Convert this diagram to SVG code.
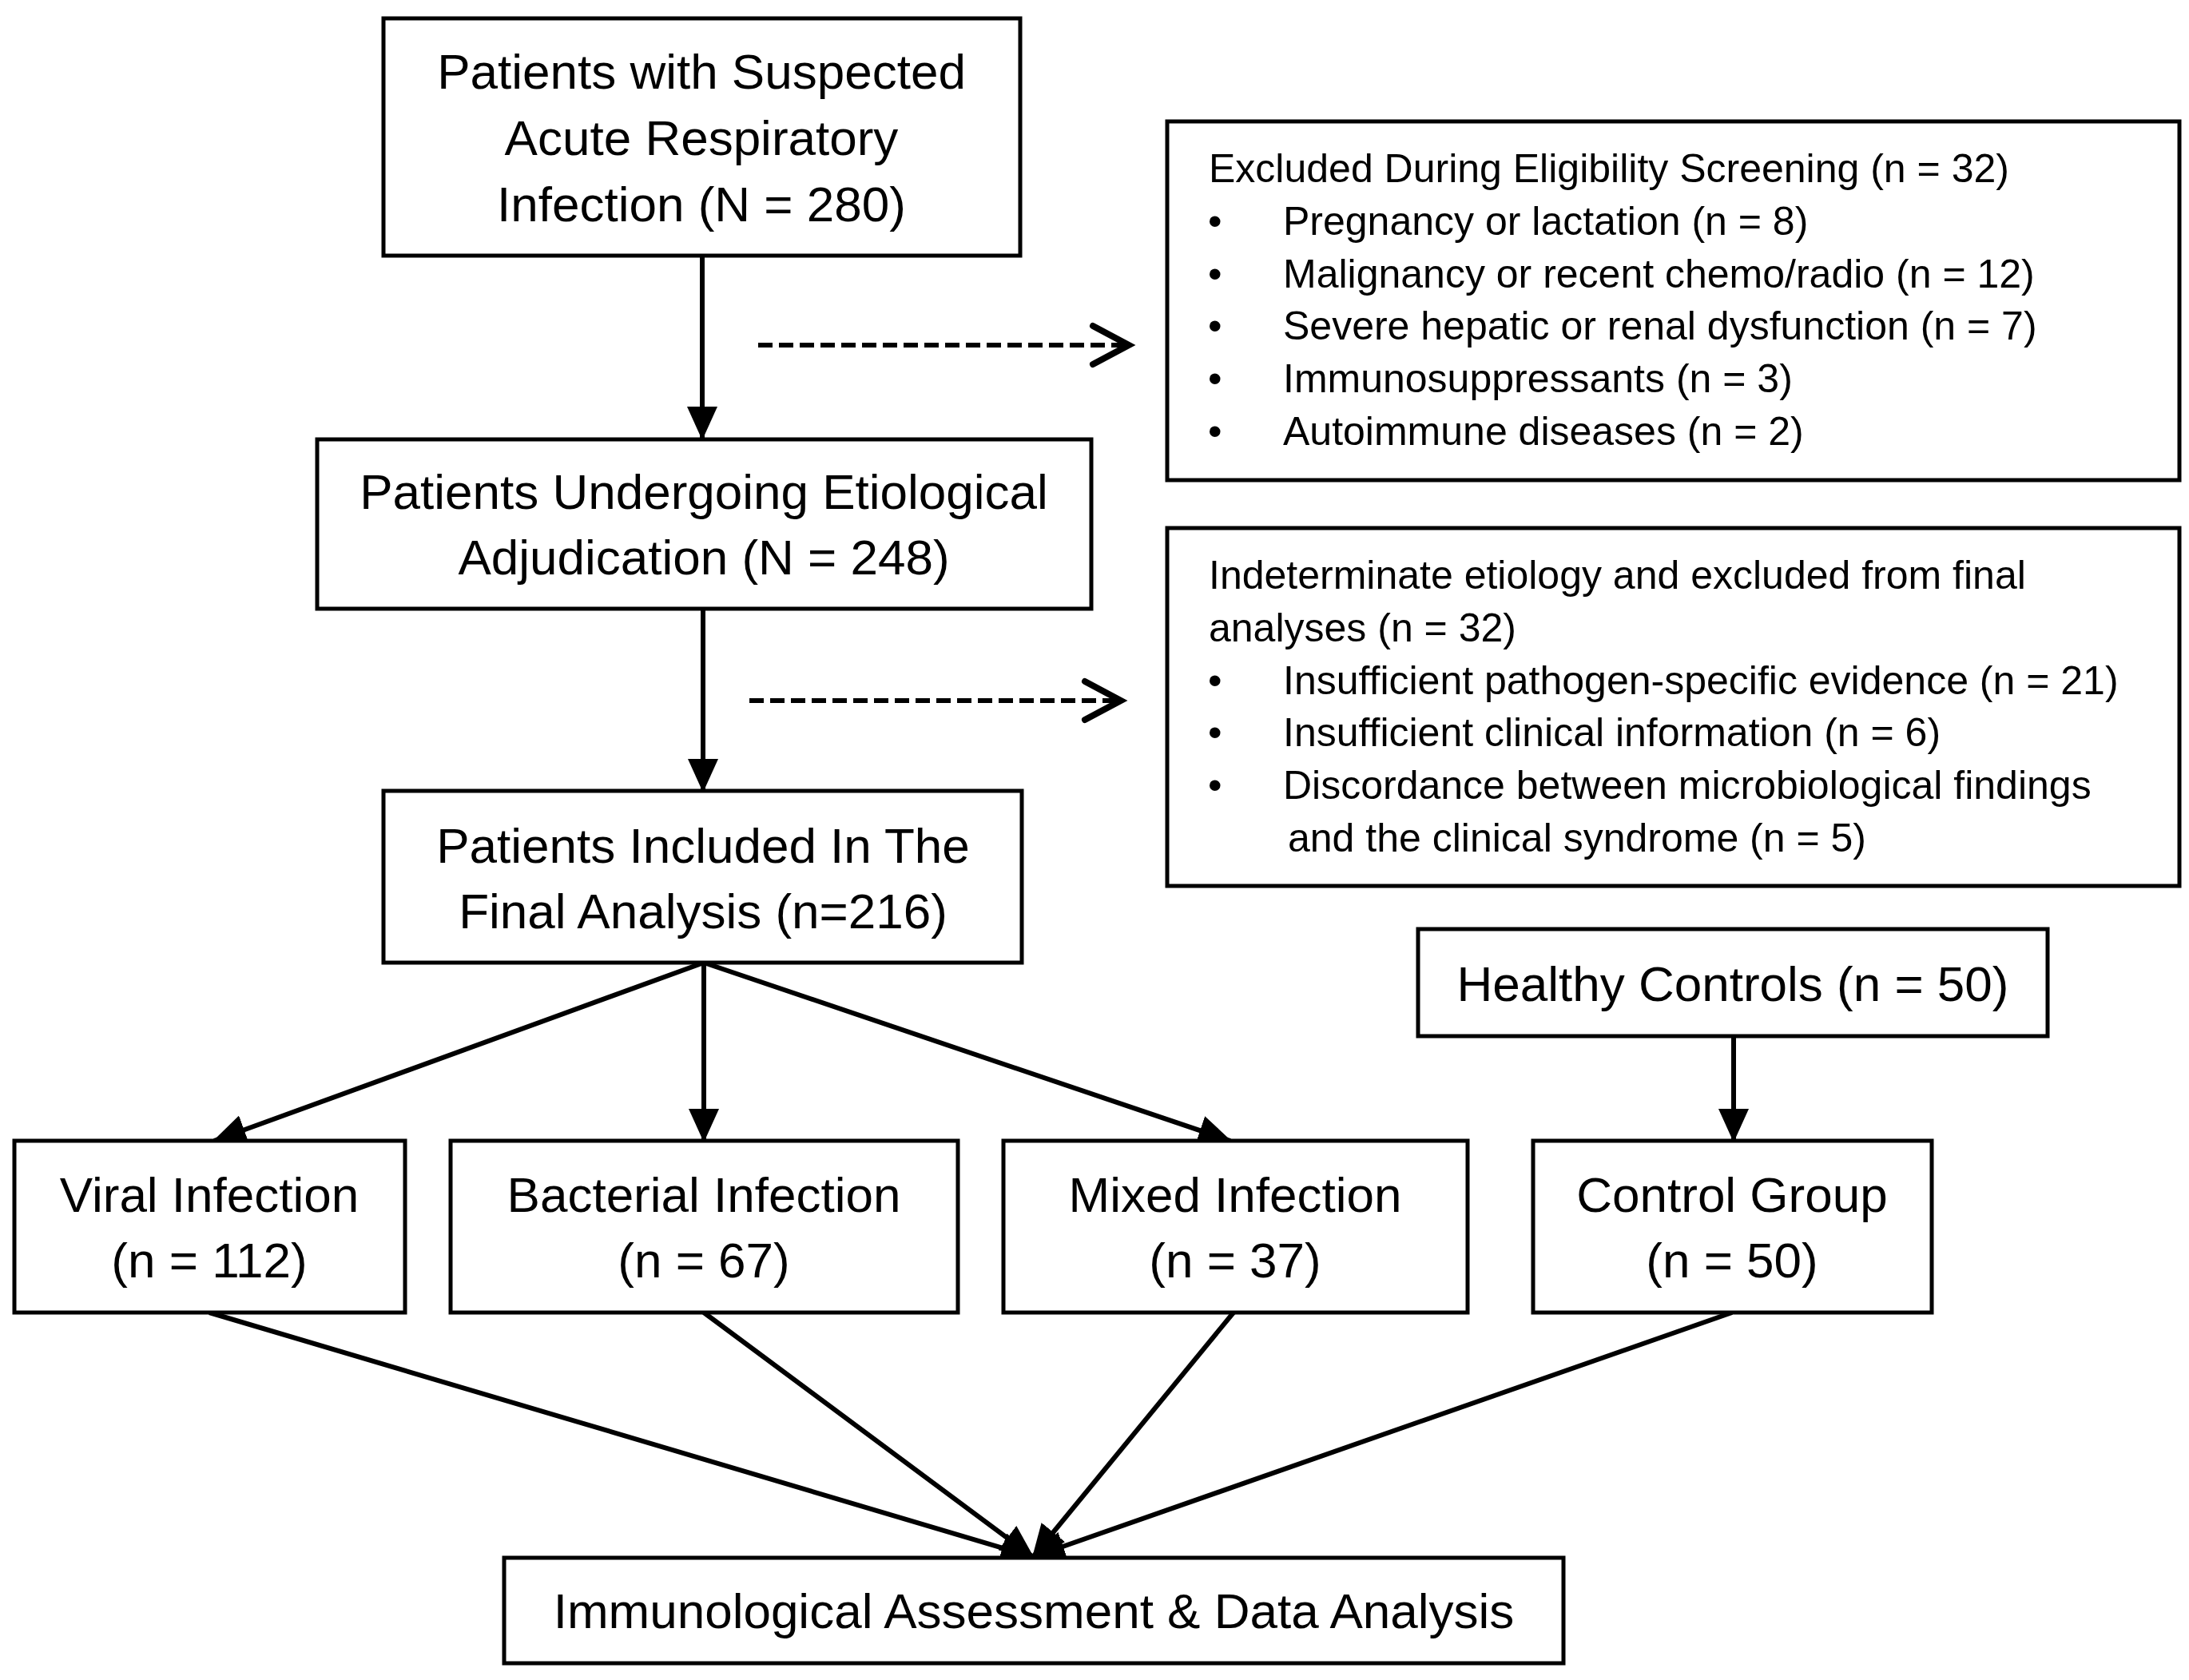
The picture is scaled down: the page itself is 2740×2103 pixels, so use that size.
<svg xmlns="http://www.w3.org/2000/svg" width="2740" height="2103" viewBox="0 0 2740 2103">
<style>
  .box { fill: #fff; stroke: #000; stroke-width: 5; }
  .t { font-family: "Liberation Sans", Arial, sans-serif; font-size: 62px; fill: #000; text-anchor: middle; }
  .s { font-family: "Liberation Sans", Arial, sans-serif; font-size: 50px; fill: #000; }
  .ln { stroke: #000; stroke-width: 6; fill: none; }
  .dash { stroke: #000; stroke-width: 6; fill: none; stroke-dasharray: 18 8; }
  .chev { stroke: #000; stroke-width: 8; fill: none; stroke-linecap: round; stroke-linejoin: miter; }
</style>
<defs>
  <marker id="ah" markerWidth="42" markerHeight="38" refX="40" refY="19" orient="auto" markerUnits="userSpaceOnUse">
    <path d="M0,0 L42,19 L0,38 z" fill="#000"/>
  </marker>
</defs>
<rect width="2740" height="2103" fill="#fff"/>

<g id="connectors">
  <line class="ln" x1="879" y1="320" x2="879" y2="549" marker-end="url(#ah)"/>
  <line class="ln" x1="880" y1="763" x2="880" y2="990" marker-end="url(#ah)"/>
  <line class="dash" x1="949" y1="432" x2="1408" y2="432"/>
  <polyline class="chev" points="1368,408 1413,432 1368,456"/>
  <line class="dash" x1="938" y1="877" x2="1399" y2="877"/>
  <polyline class="chev" points="1358,853 1403,877 1358,901"/>
  <line class="ln" x1="881" y1="1205" x2="268" y2="1428" marker-end="url(#ah)"/>
  <line class="ln" x1="881" y1="1205" x2="881" y2="1428" marker-end="url(#ah)"/>
  <line class="ln" x1="881" y1="1205" x2="1540" y2="1428" marker-end="url(#ah)"/>
  <line class="ln" x1="2170" y1="1297" x2="2170" y2="1428" marker-end="url(#ah)"/>
  <line class="ln" x1="262" y1="1643" x2="1293" y2="1949" marker-end="url(#ah)"/>
  <line class="ln" x1="881" y1="1643" x2="1293" y2="1949" marker-end="url(#ah)"/>
  <line class="ln" x1="1544" y1="1643" x2="1293" y2="1949" marker-end="url(#ah)"/>
  <line class="ln" x1="2168" y1="1643" x2="1293" y2="1949" marker-end="url(#ah)"/>
</g>

<g id="suspected">
  <rect class="box" x="480" y="23" width="797" height="297"/>
  <text class="t" x="878" y="111">Patients with Suspected</text>
  <text class="t" x="878" y="194">Acute Respiratory</text>
  <text class="t" x="878" y="277">Infection (N = 280)</text>
</g>

<g id="excluded-screening">
  <rect class="box" x="1461" y="152" width="1267" height="449"/>
  <text class="s" x="1513" y="228">Excluded During Eligibility Screening (n = 32)</text>
  <text class="s" x="1512" y="294">•</text><text class="s" x="1606" y="294">Pregnancy or lactation (n = 8)</text>
  <text class="s" x="1512" y="360">•</text><text class="s" x="1606" y="360">Malignancy or recent chemo/radio (n = 12)</text>
  <text class="s" x="1512" y="425">•</text><text class="s" x="1606" y="425">Severe hepatic or renal dysfunction (n = 7)</text>
  <text class="s" x="1512" y="491">•</text><text class="s" x="1606" y="491">Immunosuppressants (n = 3)</text>
  <text class="s" x="1512" y="557">•</text><text class="s" x="1606" y="557">Autoimmune diseases (n = 2)</text>
</g>

<g id="adjudication">
  <rect class="box" x="397" y="550" width="969" height="212"/>
  <text class="t" x="881" y="637">Patients Undergoing Etiological</text>
  <text class="t" x="881" y="719">Adjudication (N = 248)</text>
</g>

<g id="indeterminate">
  <rect class="box" x="1461" y="661" width="1267" height="448"/>
  <text class="s" x="1513" y="737">Indeterminate etiology and excluded from final</text>
  <text class="s" x="1513" y="803">analyses (n = 32)</text>
  <text class="s" x="1512" y="869">•</text><text class="s" x="1606" y="869">Insufficient pathogen-specific evidence (n = 21)</text>
  <text class="s" x="1512" y="934">•</text><text class="s" x="1606" y="934">Insufficient clinical information (n = 6)</text>
  <text class="s" x="1512" y="1000">•</text><text class="s" x="1606" y="1000">Discordance between microbiological findings</text>
  <text class="s" x="1612" y="1066">and the clinical syndrome (n = 5)</text>
</g>

<g id="final">
  <rect class="box" x="480" y="990" width="799" height="215"/>
  <text class="t" x="880" y="1080">Patients Included In The</text>
  <text class="t" x="880" y="1162">Final Analysis (n=216)</text>
</g>

<g id="healthy">
  <rect class="box" x="1775" y="1163" width="788" height="134"/>
  <text class="t" x="2169" y="1253">Healthy Controls (n = 50)</text>
</g>

<g id="viral">
  <rect class="box" x="18" y="1428" width="489" height="215"/>
  <text class="t" x="262" y="1517">Viral Infection</text>
  <text class="t" x="262" y="1599">(n = 112)</text>
</g>

<g id="bacterial">
  <rect class="box" x="564" y="1428" width="635" height="215"/>
  <text class="t" x="881" y="1517">Bacterial Infection</text>
  <text class="t" x="881" y="1599">(n = 67)</text>
</g>

<g id="mixed">
  <rect class="box" x="1256" y="1428" width="581" height="215"/>
  <text class="t" x="1546" y="1517">Mixed Infection</text>
  <text class="t" x="1546" y="1599">(n = 37)</text>
</g>

<g id="control">
  <rect class="box" x="1919" y="1428" width="499" height="215"/>
  <text class="t" x="2168" y="1517">Control Group</text>
  <text class="t" x="2168" y="1599">(n = 50)</text>
</g>

<g id="assessment">
  <rect class="box" x="631" y="1950" width="1326" height="132"/>
  <text class="t" x="1294" y="2038">Immunological Assessment &amp; Data Analysis</text>
</g>
</svg>
